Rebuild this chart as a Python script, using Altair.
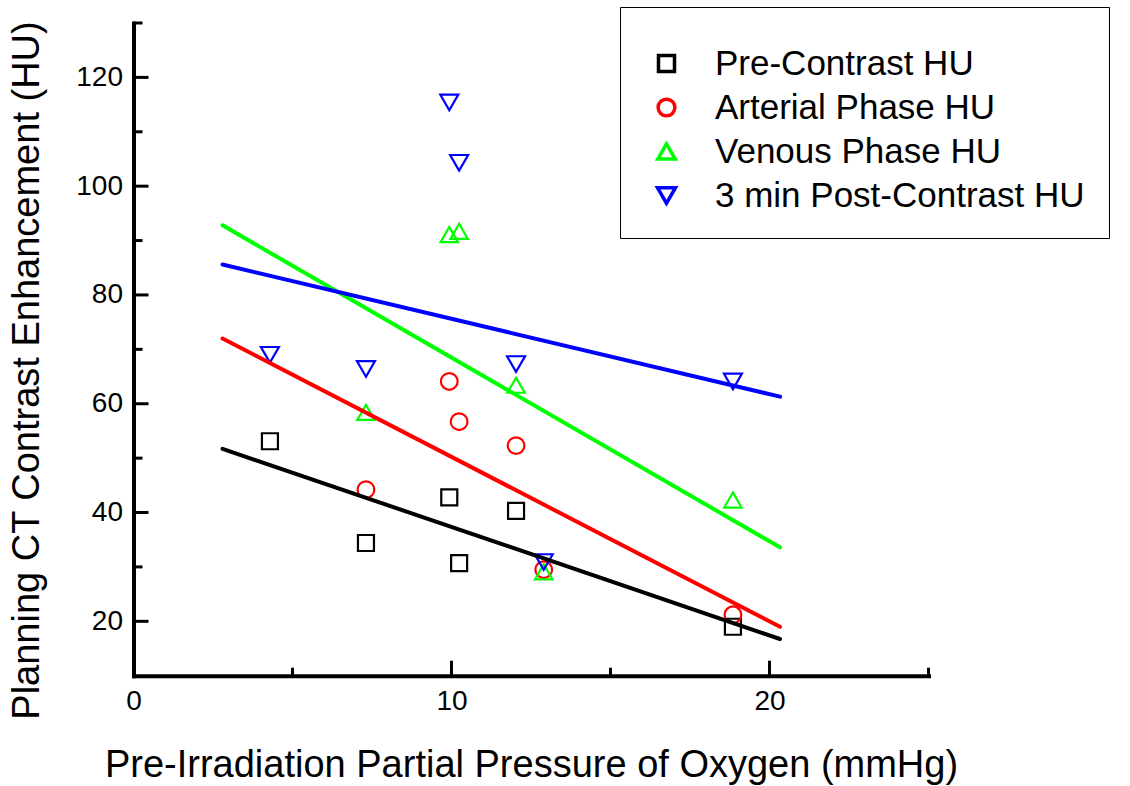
import altair as alt
import pandas as pd

# ---- data ----
series_names = ["Pre-Contrast HU", "Arterial Phase HU", "Venous Phase HU", "3 min Post-Contrast HU"]
po2 = [4.29, 7.31, 9.93, 10.24, 12.03, 12.90, 18.85]
pre_contrast = [53.1, 34.4, 42.8, 30.7, 40.3, None, 19.0]
arterial = [None, 44.2, 64.1, 56.7, 52.3, 29.5, 21.2]
venous = [None, 58.4, 91.1, 91.7, 63.4, 29.1, 42.3]
post3min = [69.0, 66.4, 115.4, 104.3, 67.3, 30.9, 64.1]

# linear fit endpoints
fit_x = [2.80, 20.33]
fit_pre = [51.7, 16.75]
fit_art = [72.0, 19.0]
fit_ven = [92.8, 33.6]
fit_post = [85.6, 61.3]

y_major = [20, 40, 60, 80, 100, 120]
y_minor = [30, 50, 70, 90, 110, 130]
x_major = [0, 10, 20]
x_minor = [5, 15, 25]

colors = ["#000000", "#FF0000", "#00FF00", "#0000FF"]
shapes = ["square", "circle", "triangle-up", "triangle-down"]

rows = []
for name, vals in zip(series_names, [pre_contrast, arterial, venous, post3min]):
    for x, y in zip(po2, vals):
        if y is not None:
            rows.append({"series": name, "x": x, "y": y})
pts = pd.DataFrame(rows)

frows = []
for name, vals in zip(series_names, [fit_pre, fit_art, fit_ven, fit_post]):
    for x, y in zip(fit_x, vals):
        frows.append({"series": name, "x": x, "y": y})
fits = pd.DataFrame(frows)

W, H = 795, 652.7
FONT = "Liberation Sans"

xscale = alt.Scale(domain=[0, 25], nice=False, zero=False)
yscale = alt.Scale(domain=[10, 130], nice=False, zero=False)

xaxis = alt.Axis(values=x_major, ticks=False, grid=False, domainWidth=4, domainColor="black",
                 domainCap="square", labelFontSize=28, labelFont=FONT, labelColor="black",
                 labelPadding=12, labelFlush=False,
                 title="Pre-Irradiation Partial Pressure of Oxygen (mmHg)",
                 titleFontSize=38, titleFont=FONT, titleFontWeight="normal", titleColor="black",
                 titlePadding=31)
yaxis = alt.Axis(values=y_major, ticks=False, grid=False, domainWidth=4, domainColor="black",
                 domainCap="square", labelFontSize=28, labelFont=FONT, labelColor="black",
                 labelPadding=11, labelFlush=False,
                 title="Planning CT Contrast Enhancement (HU)",
                 titleFontSize=38, titleFont=FONT, titleFontWeight="normal", titleColor="black",
                 titleX=-106, titleY=347, titleAngle=-90, titleAlign="center", titleBaseline="middle")

color_scale = alt.Scale(domain=series_names, range=colors)

points = alt.Chart(pts).mark_point(filled=False, strokeWidth=2.2, opacity=1).encode(
    x=alt.X("x:Q", scale=xscale, axis=xaxis),
    y=alt.Y("y:Q", scale=yscale, axis=yaxis),
    color=alt.Color("series:N", scale=color_scale, sort=series_names,
                    legend=alt.Legend(title=" ", titleFontSize=12, titlePadding=3,
                                      titleFont=FONT,
                                      orient="none", legendX=486.5, legendY=-16,
                                      strokeColor="black", padding=24, labelLimit=0,
                                      labelFont=FONT, labelFontSize=35, labelColor="black",
                                      symbolSize=220, symbolStrokeWidth=3.5, symbolOffset=5,
                                      labelOffset=31, rowPadding=8)),
    shape=alt.Shape("series:N", scale=alt.Scale(domain=series_names, range=shapes), sort=series_names),
    size=alt.Size("series:N", scale=alt.Scale(domain=series_names, range=[256, 324, 529, 529]), legend=None),
)

lines = alt.Chart(fits).mark_line(strokeWidth=4, strokeCap="round").encode(
    x=alt.X("x:Q", scale=xscale),
    y=alt.Y("y:Q", scale=yscale),
    stroke=alt.Stroke("series:N", scale=alt.Scale(domain=series_names, range=colors), legend=None),
    detail="series:N",
)

ymaj = alt.Chart(pd.DataFrame({"v": y_major})).mark_rule(color="black", strokeWidth=3).encode(
    y=alt.Y("v:Q", scale=yscale), x=alt.value(0), x2=alt.value(15))
ymin = alt.Chart(pd.DataFrame({"v": y_minor})).mark_rule(color="black", strokeWidth=3).encode(
    y=alt.Y("v:Q", scale=yscale), x=alt.value(0), x2=alt.value(9))
xmaj = alt.Chart(pd.DataFrame({"v": x_major})).mark_rule(color="black", strokeWidth=3).encode(
    x=alt.X("v:Q", scale=xscale), y=alt.value(H), y2=alt.value(H - 15))
xmin = alt.Chart(pd.DataFrame({"v": x_minor})).mark_rule(color="black", strokeWidth=3).encode(
    x=alt.X("v:Q", scale=xscale), y=alt.value(H), y2=alt.value(H - 8))

chart = alt.layer(points, lines, ymaj, ymin, xmaj, xmin).properties(
    width=W, height=H,
    autosize=alt.AutoSizeParams(type="none"),
    padding={"left": 133.5, "top": 23, "right": 201.5, "bottom": 110.3},
    background="white",
).configure_view(stroke=None)

chart.save("out.html", embed_options={"renderer": "svg", "actions": False})
